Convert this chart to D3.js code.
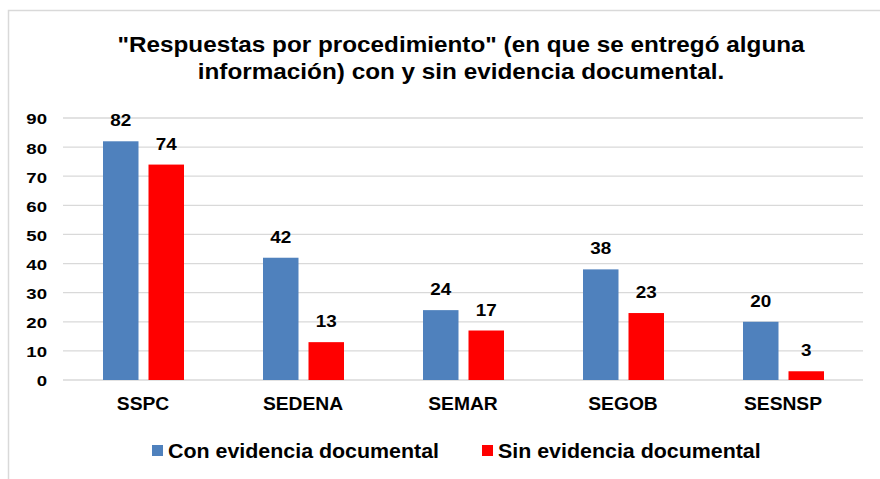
<!DOCTYPE html>
<html>
<head>
<meta charset="utf-8">
<script src="https://cdn.jsdelivr.net/npm/d3@7"></script>
<style>
  body { margin: 0; background: #fff; }
  text { font-family: "Liberation Sans", Arial, sans-serif; font-weight: bold; fill: #000; }
</style>
</head>
<body>
<svg id="chart"></svg>
<script>
const categories = ["SSPC", "SEDENA", "SEMAR", "SEGOB", "SESNSP"];
const conEvidencia = [82, 42, 24, 38, 20];
const sinEvidencia = [74, 13, 17, 23, 3];
const seriesNames = ["Con evidencia documental", "Sin evidencia documental"];
const seriesColors = ["#4F81BD", "#FF0000"];
const yTicks = [0, 10, 20, 30, 40, 50, 60, 70, 80, 90];

let svg = d3.select("#chart"),
  W = 880, H = 479,
  margin = { top: 118, right: 17, bottom: 99, left: 63 },
  width = W - margin.left - margin.right,
  height = H - margin.top - margin.bottom;

svg.attr("width", W).attr("height", H);

// text in the source is a bit wider than Arial, so stretch it horizontally
function stretched(sel, x, y, sx) {
  return sel.attr("transform", "translate(" + x + "," + y + ") scale(" + sx + ",1)");
}

// outer frame (only top and left edges are visible in the crop)
svg.append("rect")
  .attr("x", 8.5).attr("y", 10.5)
  .attr("width", W + 20).attr("height", H + 20)
  .attr("fill", "none").attr("stroke", "#d9d9d9").attr("stroke-width", 1.5);

stretched(svg.append("text"), 461, 52, 1.13)
  .attr("text-anchor", "middle").attr("font-size", "21.5px")
  .text("\"Respuestas por procedimiento\" (en que se entregó alguna");
stretched(svg.append("text"), 461, 79, 1.13)
  .attr("text-anchor", "middle").attr("font-size", "21.5px")
  .text("información) con y sin evidencia documental.");

let g = svg.append("g").attr("transform", "translate(" + margin.left + "," + margin.top + ")");

let x0 = d3.scaleBand().domain(categories).range([0, width]),
  x1 = d3.scaleBand().domain([0, 1]).range([40, 121]).paddingInner(0.22),
  y = d3.scaleLinear().domain([0, 90]).range([height, 0]);

// gridlines
g.selectAll(".grid")
  .data(yTicks)
  .enter()
  .append("line")
  .attr("x1", 0).attr("x2", width)
  .attr("y1", (d) => y(d)).attr("y2", (d) => y(d))
  .attr("stroke", "#d9d9d9").attr("stroke-width", 1.3);

let yAxis = g.append("g")
  .call(d3.axisLeft(y).tickValues(yTicks).tickSize(0).tickPadding(16));
yAxis.select(".domain").remove();
yAxis.selectAll("text")
  .attr("font-size", "15.5px")
  .attr("font-family", "Liberation Sans, Arial, sans-serif")
  .attr("font-weight", "bold")
  .attr("fill", "#000")
  .attr("x", -16 / 1.2)
  .attr("dy", "0.38em")
  .attr("transform", "scale(1.2,1)");

let xAxis = g.append("g")
  .attr("transform", "translate(0," + height + ")")
  .call(d3.axisBottom(x0).tickSize(0).tickPadding(18));
xAxis.select(".domain").remove();
xAxis.selectAll("text")
  .attr("font-size", "17.5px")
  .attr("font-family", "Liberation Sans, Arial, sans-serif")
  .attr("font-weight", "bold")
  .attr("fill", "#000")
  .attr("transform", "scale(1.1,1)");

let rows = categories.map((c, i) => ({ cat: c, values: [conEvidencia[i], sinEvidencia[i]] }));

let groups = g.selectAll(".group")
  .data(rows)
  .enter()
  .append("g")
  .attr("transform", (d) => "translate(" + x0(d.cat) + ",0)");

let bars = groups.selectAll("g")
  .data((d) => d.values.map((v, k) => ({ k: k, v: v })))
  .enter()
  .append("g");

bars.append("rect")
  .attr("x", (d) => x1(d.k))
  .attr("y", (d) => y(d.v))
  .attr("width", x1.bandwidth())
  .attr("height", (d) => height - y(d.v))
  .attr("fill", (d) => seriesColors[d.k]);

bars.append("text")
  .attr("transform", (d) => "translate(" + (x1(d.k) + x1.bandwidth() / 2) + "," + (y(d.v) - 15) + ") scale(1.18,1)")
  .attr("text-anchor", "middle")
  .attr("font-size", "16px")
  .text((d) => d.v);

// legend
let legendX = [152, 482];
let legend = svg.selectAll(".legend")
  .data(seriesNames)
  .enter()
  .append("g")
  .attr("transform", (d, i) => "translate(" + legendX[i] + ",445)");
legend.append("rect")
  .attr("width", 11).attr("height", 11)
  .attr("fill", (d, i) => seriesColors[i]);
legend.append("text")
  .attr("transform", "translate(16,12.5) scale(1.07,1)")
  .attr("font-size", "20px")
  .text((d) => d);
</script>
</body>
</html>
